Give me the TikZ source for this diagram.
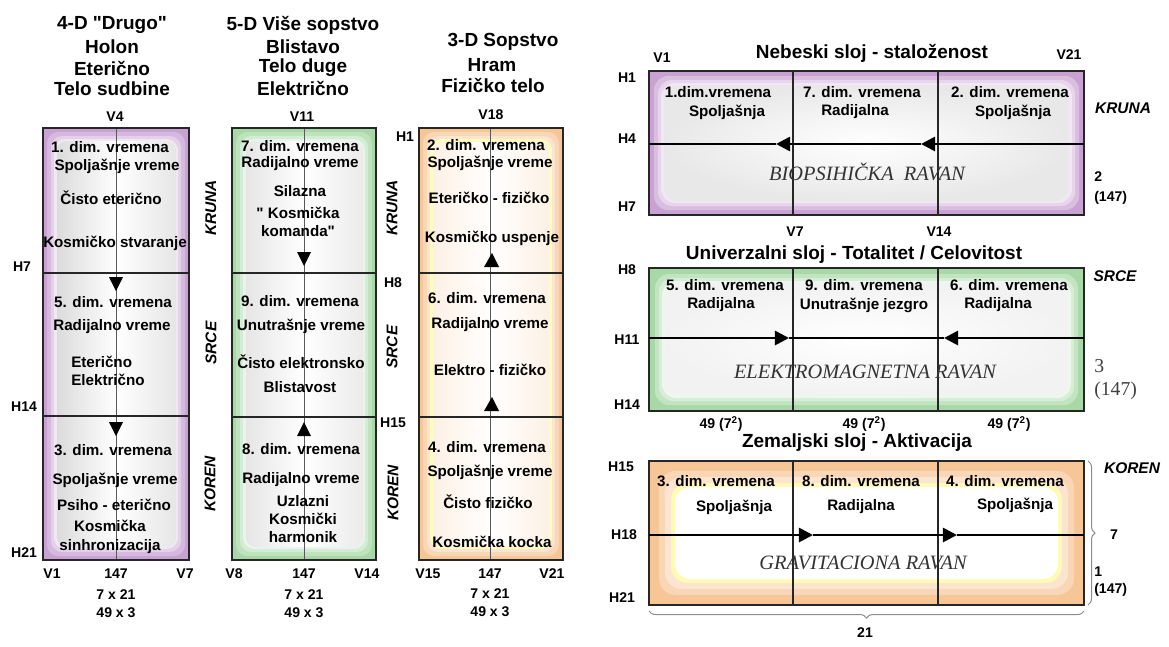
\documentclass[tikz,border=0pt]{standalone}
\usepackage{fontspec}
\setmainfont{Liberation Sans}
\newfontfamily\ravanfont{Liberation Serif}
\usetikzlibrary{arrows.meta,decorations.pathreplacing}

\definecolor{ljub}{HTML}{C9A2D3}
\definecolor{zel}{HTML}{A8D8A6}
\definecolor{narand}{HTML}{F7C696}
\definecolor{okvir}{HTML}{262626}

\tikzset{
  tekst/.style={font=\fontsize{10.8}{13}\selectfont\bfseries, align=center, inner sep=0pt},
  naslov/.style={font=\fontsize{13.5}{15.5}\selectfont\bfseries, inner sep=0pt},
  oznaka/.style={font=\fontsize{10}{12}\selectfont\bfseries, inner sep=0pt},
  sloj/.style={font=\fontsize{11}{13}\selectfont\bfseries\itshape, inner sep=0pt},
  ravan/.style={font=\fontsize{14.5}{16}\selectfont\ravanfont\itshape, text=black!80, inner sep=0pt},
  broj/.style={font=\fontsize{14}{15}\selectfont\ravanfont, text=black!75, anchor=west, inner sep=0pt},
  okvirlinija/.style={draw=okvir, line width=2pt},
  podela/.style={draw=okvir, line width=1.7pt},
  osa/.style={draw=black!65, line width=0.6pt},
  tanka/.style={draw=okvir, line width=0.8pt},
  strelica/.style={draw=black, line width=1.9pt, -{Triangle[length=10pt,width=10pt]}},
  zagrada/.style={draw=black!45, line width=0.7pt, decorate, decoration={brace, amplitude=5pt}},
}

\begin{document}
\begin{tikzpicture}[x=0.025cm, y=-0.025cm]
\useasboundingbox (0,0) rectangle (1169,646);

% stubovi - pozadine
\fill[ljub] (43,128) rectangle (189,560);
\foreach \d/\p in {4/75,8/50,11/25}
  \fill[ljub!\p!white, rounded corners=8pt] (43+\d,128+\d) rectangle (189-\d,560-\d);
\shade[rounded corners=7pt, left color=black!14, right color=black!10, middle color=white] (57,141) rectangle (176,547);

\fill[zel] (232,128) rectangle (376,560);
\foreach \d/\p in {4/75,8/50,11/25}
  \fill[zel!\p!white, rounded corners=8pt] (232+\d,128+\d) rectangle (376-\d,560-\d);
\shade[rounded corners=7pt, left color=black!10, right color=black!8, middle color=white] (246,141) rectangle (363,547);

\fill[narand] (419,128) rectangle (563,560);
\foreach \d/\p in {4/70,8/45}
  \fill[narand!\p!white, rounded corners=8pt] (419+\d,128+\d) rectangle (563-\d,560-\d);
\fill[yellow!25!white, rounded corners=8pt] (430,139) rectangle (552,549);
\shade[rounded corners=7pt, left color=narand!25!white, right color=narand!25!white, middle color=white] (433,142) rectangle (549,546);

% slojevi - pozadine
\fill[ljub] (649,71) rectangle (1084,215);
\foreach \d/\p in {5/70,9/45,12/25}
  \fill[ljub!\p!white, rounded corners=10pt] (649+\d,71+\d) rectangle (1084-\d,215-\d);
\shade[rounded corners=10pt, inner color=white, outer color=black!9] (664,85) rectangle (1069,201);

\fill[zel] (649,268) rectangle (1084,411);
\foreach \d/\p in {6/70,10/45,13/20}
  \fill[zel!\p!white, rounded corners=10pt] (649+\d,268+\d) rectangle (1084-\d,411-\d);
\shade[rounded corners=10pt, inner color=white, outer color=black!5] (665,284) rectangle (1068,395);

\fill[narand] (649,461) rectangle (1084,605);
\foreach \d/\p in {10/70,16/45}
  \fill[narand!\p!white, rounded corners=12pt] (649+\d,461+\d) rectangle (1084-\d,605-\d);
\fill[yellow!30!white, rounded corners=12pt] (671,483) rectangle (1062,583);
\fill[white, rounded corners=11pt] (675,487) rectangle (1058,579);

% stubovi - linije
\draw[osa] (116,128) -- (116,560);
\draw[podela] (43,273) -- (189,273);
\draw[podela] (43,416) -- (189,416);
\draw[okvirlinija] (43,128) rectangle (189,560);
\fill (109,277) -- (123,277) -- (116,291) -- cycle;
\fill (109,422) -- (123,422) -- (116,436) -- cycle;

\draw[osa] (304,128) -- (304,560);
\draw[podela] (232,273) -- (376,273);
\draw[podela] (232,417) -- (376,417);
\draw[okvirlinija] (232,128) rectangle (376,560);
\fill (297,252) -- (311,252) -- (304,266) -- cycle;
\fill (297,436) -- (311,436) -- (304,422) -- cycle;

\draw[osa] (490,128) -- (490,560);
\draw[podela] (419,273) -- (563,273);
\draw[podela] (419,417) -- (563,417);
\draw[okvirlinija] (419,128) rectangle (563,560);
\fill (484,267) -- (499,267) -- (492,253) -- cycle;
\fill (484,411) -- (499,411) -- (492,397) -- cycle;

% slojevi - linije
\draw[tanka] (793,71) -- (793,215);
\draw[tanka] (938,71) -- (938,215);
\draw[okvirlinija] (649,71) rectangle (1084,215);
\coordinate (n-d) at (1084,144);
\coordinate (n-s2) at (921,144);
\coordinate (n-s1) at (776,144);
\coordinate (n-l) at (649,144);
\draw[strelica] (n-d) -- (n-s2);
\draw[strelica] (n-s2) -- (n-s1);
\draw[draw=black, line width=1.9pt] (n-s1) -- (n-l);

\draw[tanka] (793,268) -- (793,411);
\draw[tanka] (938,268) -- (938,411);
\draw[okvirlinija] (649,268) rectangle (1084,411);
\coordinate (u-l) at (649,338);
\coordinate (u-s1) at (789,338);
\coordinate (u-s2) at (944,338);
\coordinate (u-d) at (1084,338);
\draw[strelica] (u-l) -- (u-s1);
\draw[draw=black, line width=1.9pt] (u-s1) -- (u-s2);
\draw[strelica] (u-d) -- (u-s2);

\draw[tanka] (793,461) -- (793,605);
\draw[tanka] (938,461) -- (938,605);
\draw[okvirlinija] (649,461) rectangle (1084,605);
\coordinate (z-l) at (649,535);
\coordinate (z-s1) at (813,535);
\coordinate (z-s2) at (957,535);
\coordinate (z-d) at (1084,535);
\draw[strelica] (z-l) -- (z-s1);
\draw[strelica] (z-s1) -- (z-s2);
\draw[draw=black, line width=1.9pt] (z-s2) -- (z-d);

\draw[zagrada] (1088,461) -- (1088,605);
\draw[zagrada] (1084,611) -- (649,611);

% stub 1
\node[naslov] (s1n1) at (112,25) {4-D \textquotedbl Drugo\textquotedbl};
\node[naslov] (s1n2) at (112,47) {Holon};
\node[naslov] (s1n3) at (112,69) {Eterično};
\node[naslov] (s1n4) at (112,89) {Telo sudbine};
\node[oznaka] (v4) at (115,117) {V4};
\node[tekst] (s1a1) at (110,147) {1. dim. vremena};
\node[tekst] (s1a2) at (117,166) {Spoljašnje vreme};
\node[tekst] (s1a3) at (111,198) {Čisto eterično};
\node[tekst] (s1a4) at (115,243) {Kosmičko stvaranje};
\node[tekst] (s1b1) at (113,302) {5. dim. vremena};
\node[tekst] (s1b2) at (112,327) {Radijalno vreme};
\node[tekst, align=left] (s1b3) at (108,371) {Eterično\\Električno};
\node[tekst] (s1c1) at (113,450) {3. dim. vremena};
\node[tekst] (s1c2) at (115,480) {Spoljašnje vreme};
\node[tekst] (s1c3) at (114,505) {Psiho - eterično};
\node[tekst] (s1c4) at (110,537) {Kosmička\\sinhronizacija};
\node[oznaka] (h7) at (22,267) {H7};
\node[oznaka] (h14) at (24,407) {H14};
\node[oznaka] (h21) at (24,553) {H21};
\node[oznaka] (v1) at (52,574) {V1};
\node[oznaka] (s1z) at (116,574) {147};
\node[oznaka] (v7) at (185,574) {V7};
\node[oznaka] (s1m1) at (116,595) {7 x 21};
\node[oznaka] (s1m2) at (116,613) {49 x 3};

\node[sloj, rotate=90] (kr1) at (211,208) {KRUNA};
\node[sloj, rotate=90] (sr1) at (211,343) {SRCE};
\node[sloj, rotate=90] (ko1) at (210,484) {KOREN};

% stub 2
\node[naslov] (s2n1) at (303,25) {5-D Više sopstvo};
\node[naslov] (s2n2) at (303,47) {Blistavo};
\node[naslov] (s2n3) at (303,68) {Telo duge};
\node[naslov] (s2n4) at (303,89) {Električno};
\node[oznaka] (v11) at (302,117) {V11};
\node[tekst] (s2a1) at (300,146) {7. dim. vremena};
\node[tekst] (s2a2) at (300,164) {Radijalno vreme};
\node[tekst] (s2a3) at (300,191) {Silazna};
\node[tekst] (s2a4) at (298,222) {\textquotedbl{} Kosmička\\komanda\textquotedbl};
\node[tekst] (s2b1) at (300,301) {9. dim. vremena};
\node[tekst] (s2b2) at (301,326) {Unutrašnje vreme};
\node[tekst] (s2b3) at (301,362) {Čisto elektronsko};
\node[tekst] (s2b4) at (300,387) {Blistavost};
\node[tekst] (s2c1) at (301,449) {8. dim. vremena};
\node[tekst] (s2c2) at (301,480) {Radijalno vreme};
\node[tekst] (s2c3) at (303,519) {Uzlazni\\Kosmički\\harmonik};
\node[oznaka] (v8) at (234,574) {V8};
\node[oznaka] (s2z) at (304,574) {147};
\node[oznaka] (v14) at (367,574) {V14};
\node[oznaka] (s2m1) at (304,595) {7 x 21};
\node[oznaka] (s2m2) at (304,613) {49 x 3};

\node[sloj, rotate=90] (kr2) at (392,208) {KRUNA};
\node[sloj, rotate=90] (sr2) at (392,347) {SRCE};
\node[sloj, rotate=90] (ko2) at (393,493) {KOREN};

% stub 3
\node[naslov] (s3n1) at (503,42) {3-D Sopstvo};
\node[naslov] (s3n2) at (492,65) {Hram};
\node[naslov] (s3n3) at (493,86) {Fizičko telo};
\node[oznaka] (v18) at (491,115) {V18};
\node[oznaka] (h1) at (405,137) {H1};
\node[oznaka] (h8) at (393,283) {H8};
\node[oznaka] (h15) at (393,423) {H15};
\node[tekst] (s3a1) at (486,145) {2. dim. vremena};
\node[tekst] (s3a2) at (490,163) {Spoljašnje vreme};
\node[tekst] (s3a3) at (489,198) {Eteričko - fizičko};
\node[tekst] (s3a4) at (492,238) {Kosmičko uspenje};
\node[tekst] (s3b1) at (487,298) {6. dim. vremena};
\node[tekst] (s3b2) at (490,325) {Radijalno vreme};
\node[tekst] (s3b3) at (490,370) {Elektro - fizičko};
\node[tekst] (s3c1) at (487,447) {4. dim. vremena};
\node[tekst] (s3c2) at (490,472) {Spoljašnje vreme};
\node[tekst] (s3c3) at (488,502) {Čisto fizičko};
\node[tekst] (s3c4) at (492,542) {Kosmička kocka};
\node[oznaka] (v15) at (428,574) {V15};
\node[oznaka] (s3z) at (490,574) {147};
\node[oznaka] (v21) at (552,574) {V21};
\node[oznaka] (s3m1) at (490,594) {7 x 21};
\node[oznaka] (s3m2) at (490,612) {49 x 3};

% nebeski sloj
\node[naslov] (p1n) at (872,53) {Nebeski sloj - staloženost};
\node[oznaka] (p1v1) at (662,58) {V1};
\node[oznaka] (p1v21) at (1069,55) {V21};
\node[oznaka] (p1h1) at (627,78) {H1};
\node[oznaka] (p1h4) at (627,139) {H4};
\node[oznaka] (p1h7) at (627,207) {H7};
\node[sloj] (p1kr) at (1123,108) {KRUNA};
\node[oznaka, anchor=west] (p1b1) at (1094,177) {2};
\node[oznaka, anchor=west] (p1b2) at (1094,198) {(147)};
\node[tekst] (p1a1) at (718,92) {1.dim.vremena};
\node[tekst] (p1a2) at (727,112) {Spoljašnja};
\node[tekst] (p1b1t) at (862,92) {7. dim. vremena};
\node[tekst] (p1b2t) at (855,112) {Radijalna};
\node[tekst] (p1c1) at (1010,92) {2. dim. vremena};
\node[tekst] (p1c2) at (1013,112) {Spoljašnja};
\node[ravan] (p1r) at (867,172) {BIOPSIHIČKA~~RAVAN};

% univerzalni sloj
\node[oznaka] (p2v7) at (795,232) {V7};
\node[oznaka] (p2v14) at (939,232) {V14};
\node[naslov] (p2n) at (854,255) {Univerzalni sloj - Totalitet / Celovitost};
\node[oznaka] (p2h8) at (627,270) {H8};
\node[oznaka] (p2h11) at (627,340) {H11};
\node[oznaka] (p2h14) at (627,405) {H14};
\node[sloj] (p2sr) at (1115,276) {SRCE};
\node[broj] (p2b1) at (1094,366) {3};
\node[broj] (p2b2) at (1094,391) {(147)};
\node[tekst] (p2a1) at (725,285) {5. dim. vremena};
\node[tekst] (p2a2) at (721,305) {Radijalna};
\node[tekst] (p2b1t) at (864,285) {9. dim. vremena};
\node[tekst] (p2b2t) at (864,305) {Unutrašnje jezgro};
\node[tekst] (p2c1) at (1009,285) {6. dim. vremena};
\node[tekst] (p2c2) at (998,305) {Radijalna};
\node[ravan] (p2r) at (865,372) {ELEKTROMAGNETNA RAVAN};
\node[oznaka] (p2m1) at (721,424) {49 (7\textsuperscript{2})};
\node[oznaka] (p2m2) at (864,424) {49 (7\textsuperscript{2})};
\node[oznaka] (p2m3) at (1009,424) {49 (7\textsuperscript{2})};

% zemaljski sloj
\node[naslov] (p3n) at (857,443) {Zemaljski sloj - Aktivacija};
\node[oznaka] (p3h15) at (621,467) {H15};
\node[oznaka] (p3h18) at (624,535) {H18};
\node[oznaka] (p3h21) at (622,598) {H21};
\node[sloj] (p3ko) at (1132,468) {KOREN};
\node[oznaka] (p3b7) at (1114,535) {7};
\node[oznaka, anchor=west] (p3b1) at (1094,572) {1};
\node[oznaka, anchor=west] (p3b2) at (1094,590) {(147)};
\node[oznaka] (p3m) at (865,633) {21};
\node[tekst] (p3a1) at (716,481) {3. dim. vremena};
\node[tekst] (p3a2) at (734,507) {Spoljašnja};
\node[tekst] (p3b1t) at (861,481) {8. dim. vremena};
\node[tekst] (p3b2t) at (861,507) {Radijalna};
\node[tekst] (p3c1) at (1005,481) {4. dim. vremena};
\node[tekst] (p3c2) at (1015,505) {Spoljašnja};
\node[ravan] (p3r) at (863,563) {GRAVITACIONA RAVAN};
\end{tikzpicture}
\end{document}
